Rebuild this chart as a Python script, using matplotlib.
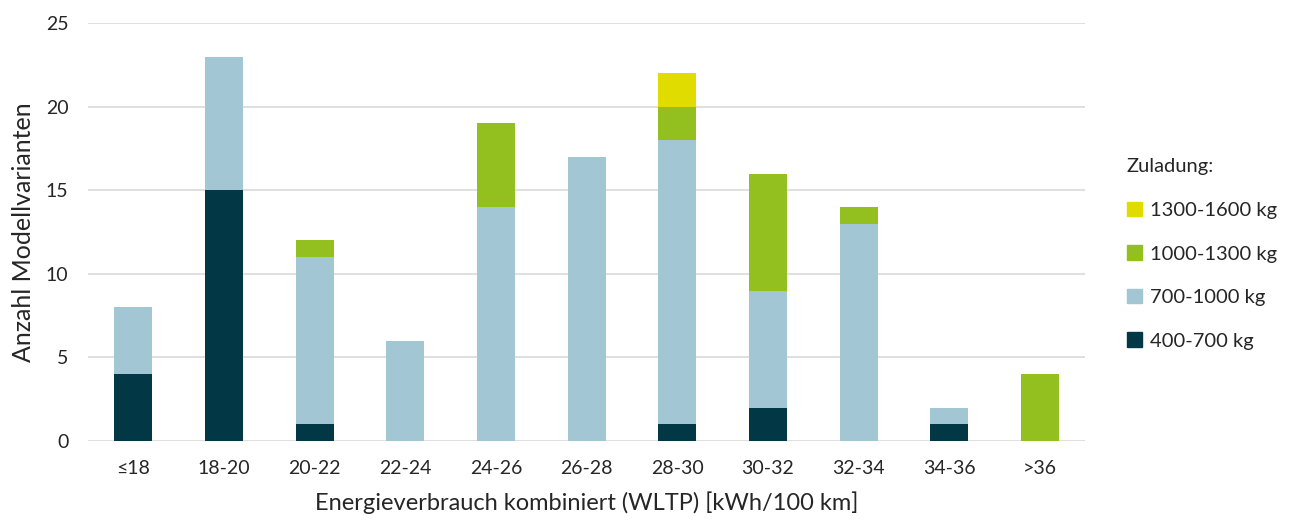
import matplotlib
matplotlib.use("Agg")
import matplotlib.pyplot as plt
import numpy as np
from matplotlib.patches import Patch

categories = ["≤18", "18-20", "20-22", "22-24", "24-26", "26-28", "28-30", "30-32", "32-34", "34-36", ">36"]
s400_700 = [4, 15, 1, 0, 0, 0, 1, 2, 0, 1, 0]
s700_1000 = [4, 8, 10, 6, 14, 17, 17, 7, 13, 1, 0]
s1000_1300 = [0, 0, 1, 0, 5, 0, 2, 7, 1, 0, 4]
s1300_1600 = [0, 0, 0, 0, 0, 0, 2, 0, 0, 0, 0]
series_names = ["400-700 kg", "700-1000 kg", "1000-1300 kg", "1300-1600 kg"]
colors = ["#023845", "#a3c6d4", "#93c01f", "#e0dc00"]

plt.rcParams['font.family'] = ['Lato', 'DejaVu Sans']

fig = plt.figure(figsize=(12.92, 5.26), dpi=100)
ax = fig.add_axes([0.068, 0.1616, 0.772, 0.7944])

x = np.arange(len(categories))
bottom = np.zeros(len(categories))
handles = []
for vals, name, c in zip([s400_700, s700_1000, s1000_1300, s1300_1600], series_names, colors):
    ax.bar(x, vals, bottom=bottom, width=0.42, color=c, zorder=3, label=name)
    bottom += np.array(vals)
    handles.append(Patch(color=c, label=name))

ax.set_xlim(-0.5, len(categories) - 0.5)
ax.set_ylim(0, 25)
ax.set_yticks(range(0, 26, 5))
ax.set_xticks(x)
ax.set_xticklabels(categories)
ax.yaxis.grid(True, color="#d9d9d9", linewidth=1.2, zorder=0)
for s in ax.spines.values():
    s.set_visible(False)
ax.tick_params(axis='y', length=0, labelsize=14, colors="#262626", pad=14)
ax.tick_params(axis='x', length=0, labelsize=14, colors="#262626", pad=14)
ax.set_ylabel("Anzahl Modellvarianten", fontsize=18, color="#262626", labelpad=8)
ax.set_xlabel("Energieverbrauch kombiniert (WLTP) [kWh/100 km]", fontsize=17, color="#262626", labelpad=10)

leg = fig.legend(handles=handles[::-1], title="Zuladung:", loc="center left",
                 bbox_to_anchor=(0.858, 0.517), frameon=False, fontsize=14.5,
                 title_fontsize=14.5, handlelength=0.75, handleheight=0.75,
                 handletextpad=0.4, labelspacing=1.3)
leg._legend_box.align = "left"
leg.get_title().set_color("#262626")
for t in leg.get_texts():
    t.set_color("#262626")

fig.savefig("out.png", dpi=100)
